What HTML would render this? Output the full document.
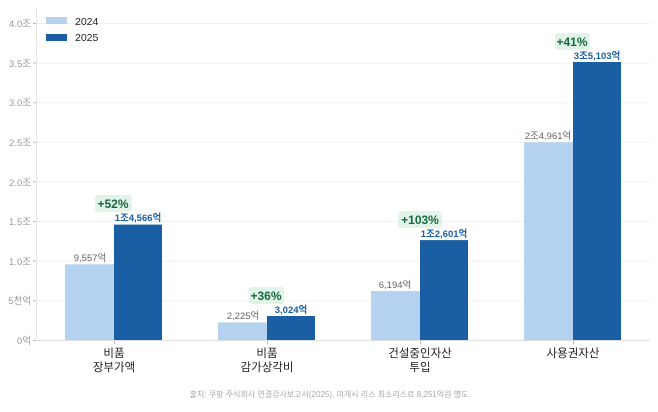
<!DOCTYPE html>
<html><head><meta charset="utf-8"><style>
body{margin:0;background:#fff;}
svg text{font-family:"Liberation Sans","Noto Sans CJK KR",sans-serif;}
</style></head><body>
<svg width="658" height="407" xmlns="http://www.w3.org/2000/svg">
<g stroke="#f1f1f1" stroke-width="1">
<line x1="36" x2="650" y1="23.5" y2="23.5"/><line x1="36" x2="650" y1="63.1" y2="63.1"/>
<line x1="36" x2="650" y1="102.7" y2="102.7"/><line x1="36" x2="650" y1="142.3" y2="142.3"/>
<line x1="36" x2="650" y1="181.9" y2="181.9"/><line x1="36" x2="650" y1="221.5" y2="221.5"/>
<line x1="36" x2="650" y1="261.1" y2="261.1"/><line x1="36" x2="650" y1="300.7" y2="300.7"/>
</g>
<g stroke="#bbb" stroke-width="1">
<line x1="33" x2="36" y1="23.5" y2="23.5"/><line x1="33" x2="36" y1="63.1" y2="63.1"/>
<line x1="33" x2="36" y1="102.7" y2="102.7"/><line x1="33" x2="36" y1="142.3" y2="142.3"/>
<line x1="33" x2="36" y1="181.9" y2="181.9"/><line x1="33" x2="36" y1="221.5" y2="221.5"/>
<line x1="33" x2="36" y1="261.1" y2="261.1"/><line x1="33" x2="36" y1="300.7" y2="300.7"/>
<line x1="33" x2="36" y1="340.5" y2="340.5"/>
<line x1="114.5" x2="114.5" y1="340" y2="344"/><line x1="267.5" x2="267.5" y1="340" y2="344"/>
<line x1="420.5" x2="420.5" y1="340" y2="344"/><line x1="573.5" x2="573.5" y1="340" y2="344"/>
</g>
<line x1="36.5" x2="36.5" y1="8" y2="340" stroke="#e6e6e6"/>
<line x1="36" x2="650" y1="340.5" y2="340.5" stroke="#e0e0e0"/>
<g font-size="9.5" fill="#999" text-anchor="end">
<text x="31" y="27">4.0조</text><text x="31" y="67">3.5조</text><text x="31" y="106">3.0조</text>
<text x="31" y="146">2.5조</text><text x="31" y="186">2.0조</text><text x="31" y="225">1.5조</text>
<text x="31" y="265">1.0조</text><text x="31" y="304">5천억</text><text x="31" y="344">0억</text>
</g>
<rect x="46" y="17" width="21" height="7" fill="#b5d3f1"/><text x="75" y="25" font-size="10.5" fill="#222">2024</text>
<rect x="46" y="34" width="21" height="7" fill="#1a5ea3"/><text x="75" y="41" font-size="10.5" fill="#222">2025</text>
<g fill="#b5d3f1">
<rect x="65" y="264.3" width="49" height="75.7"/><rect x="218" y="322.4" width="49" height="17.6"/>
<rect x="371" y="291" width="49" height="49"/><rect x="524" y="142.2" width="49" height="197.8"/>
</g>
<g fill="#1a5ea3">
<rect x="114" y="224.6" width="48" height="115.4"/><rect x="267" y="316" width="48" height="24"/>
<rect x="420" y="240.1" width="48" height="99.9"/><rect x="573" y="62" width="48" height="278"/>
</g>
<g font-size="9.5" fill="#666" text-anchor="middle">
<text x="90" y="261">9,557억</text><text x="243" y="319">2,225억</text>
<text x="395" y="288">6,194억</text><text x="548" y="139">2조4,961억</text>
</g>
<g font-size="9.5" fill="#1a5ea3" font-weight="bold" text-anchor="middle">
<text x="138" y="221">1조4,566억</text><text x="291" y="313">3,024억</text>
<text x="444" y="237">1조2,601억</text><text x="597" y="59">3조5,103억</text>
</g>
<g fill="#e2f3ea">
<rect x="95" y="195" width="37" height="17" rx="3"/><rect x="249" y="287" width="35" height="17" rx="3"/>
<rect x="398" y="211" width="44" height="17" rx="3"/><rect x="555" y="33" width="35" height="17" rx="3"/>
</g>
<g font-size="12" fill="#17693e" font-weight="bold" text-anchor="middle">
<text x="113" y="208">+52%</text><text x="266" y="300">+36%</text>
<text x="420" y="224">+103%</text><text x="572" y="46">+41%</text>
</g>
<g font-size="11.5" fill="#222" text-anchor="middle">
<text x="114" y="357">비품</text><text x="114" y="371">장부가액</text>
<text x="267" y="357">비품</text><text x="267" y="371">감가상각비</text>
<text x="420" y="357">건설중인자산</text><text x="420" y="371">투입</text>
<text x="573" y="357">사용권자산</text>
</g>
<text x="329" y="397" font-size="8" fill="#aaa" text-anchor="middle">출처: 쿠팡 주식회사 연결감사보고서(2025). 미개시 리스 최소리스료 8,251억원 별도</text>
</svg>
</body></html>
